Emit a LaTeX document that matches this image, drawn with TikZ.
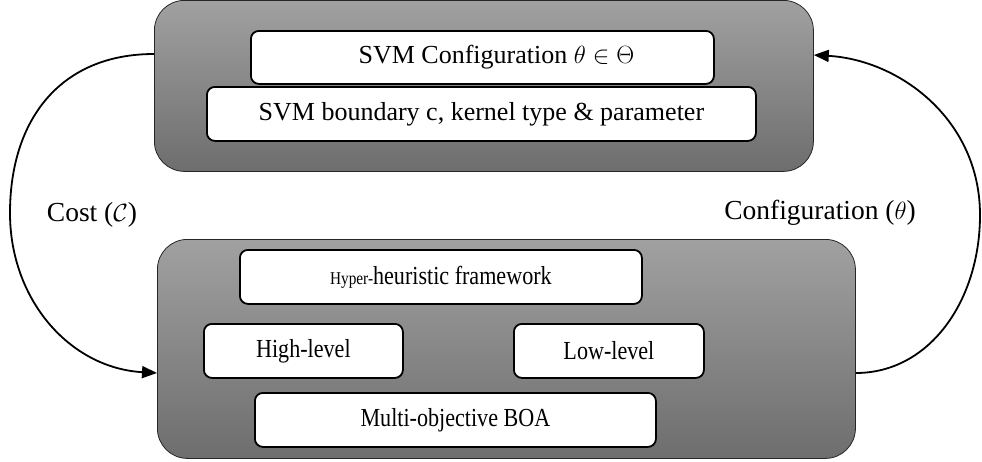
\documentclass[tikz,border=0pt]{standalone}
\usepackage{fontspec}
\usepackage{graphicx}
\setmainfont{Liberation Serif}
\usetikzlibrary{arrows.meta,calc}
\newcommand{\condtxt}[1]{\scalebox{0.85}[1]{#1}}
\begin{document}
\begin{tikzpicture}[x=1pt,y=-1pt,
  bigbox/.style={draw=black!85,line width=0.8pt,rounded corners=30pt,top color=black!37,bottom color=black!57,inner sep=0pt},
  inbox/.style={draw=black,line width=1.8pt,rounded corners=8pt,fill=white,inner sep=0pt},
  toptxt/.style={font=\fontsize{26}{30}\selectfont},
  bottxt/.style={font=\fontsize{26}{30}\selectfont},
  lbl/.style={font=\fontsize{27.5}{32}\selectfont},
  conn/.style={line width=1.8pt,-{Triangle[length=15pt,width=12pt]}}]
\useasboundingbox (0,0) rectangle (982,461);
% big boxes
\node[bigbox,minimum width=659pt,minimum height=171pt,anchor=north west] (top) at (154,0) {};
\node[bigbox,minimum width=698pt,minimum height=219pt,anchor=north west] (bot) at (157,239) {};
% inner boxes top
\node[inbox,toptxt,minimum width=463pt,minimum height=53pt,anchor=north west] (cfg) at (250,30) {\hspace*{28pt}SVM Configuration $\theta\in\Theta$};
\node[inbox,toptxt,minimum width=549pt,minimum height=54pt,anchor=north west] (svm) at (206,86) {SVM boundary c, kernel type \& parameter};
% inner boxes bottom
\node[inbox,bottxt,minimum width=402pt,minimum height=54pt,anchor=north west] (hyp) at (239,249) {\condtxt{{\fontsize{18}{21}\selectfont Hyper-}heuristic framework}};
\node[inbox,bottxt,minimum width=199pt,minimum height=54pt,anchor=north west] (high) at (203,323) {\condtxt{High-level}};
\node[inbox,bottxt,minimum width=190pt,minimum height=54pt,anchor=north west] (low) at (513,323) {\condtxt{Low-level}};
\node[inbox,bottxt,minimum width=401pt,minimum height=54pt,anchor=north west] (moboa) at (254,392) {\condtxt{Multi-objective BOA}};
% connectors
\coordinate (cs) at ($(top.north west)+(0,54)$);
\coordinate (ce) at ($(bot.north west)+(0,134)$);
\draw[conn] (cs) .. controls (60,54) and (10,120) .. (10,213) .. controls (10,300) and (70,368) .. (ce);
\coordinate (rs) at ($(bot.north east)+(0,134)$);
\coordinate (re) at ($(top.north east)+(0,55)$);
\draw[conn] (rs) .. controls (930,373) and (980,300) .. (980,215) .. controls (980,120) and (900,60) .. (re);
% labels
\node[lbl] (costl) at (92,215) {Cost ($\mathcal{C}$)};
\node[lbl] (confl) at (820,213) {Configuration ($\theta$)};
\end{tikzpicture}
\end{document}
